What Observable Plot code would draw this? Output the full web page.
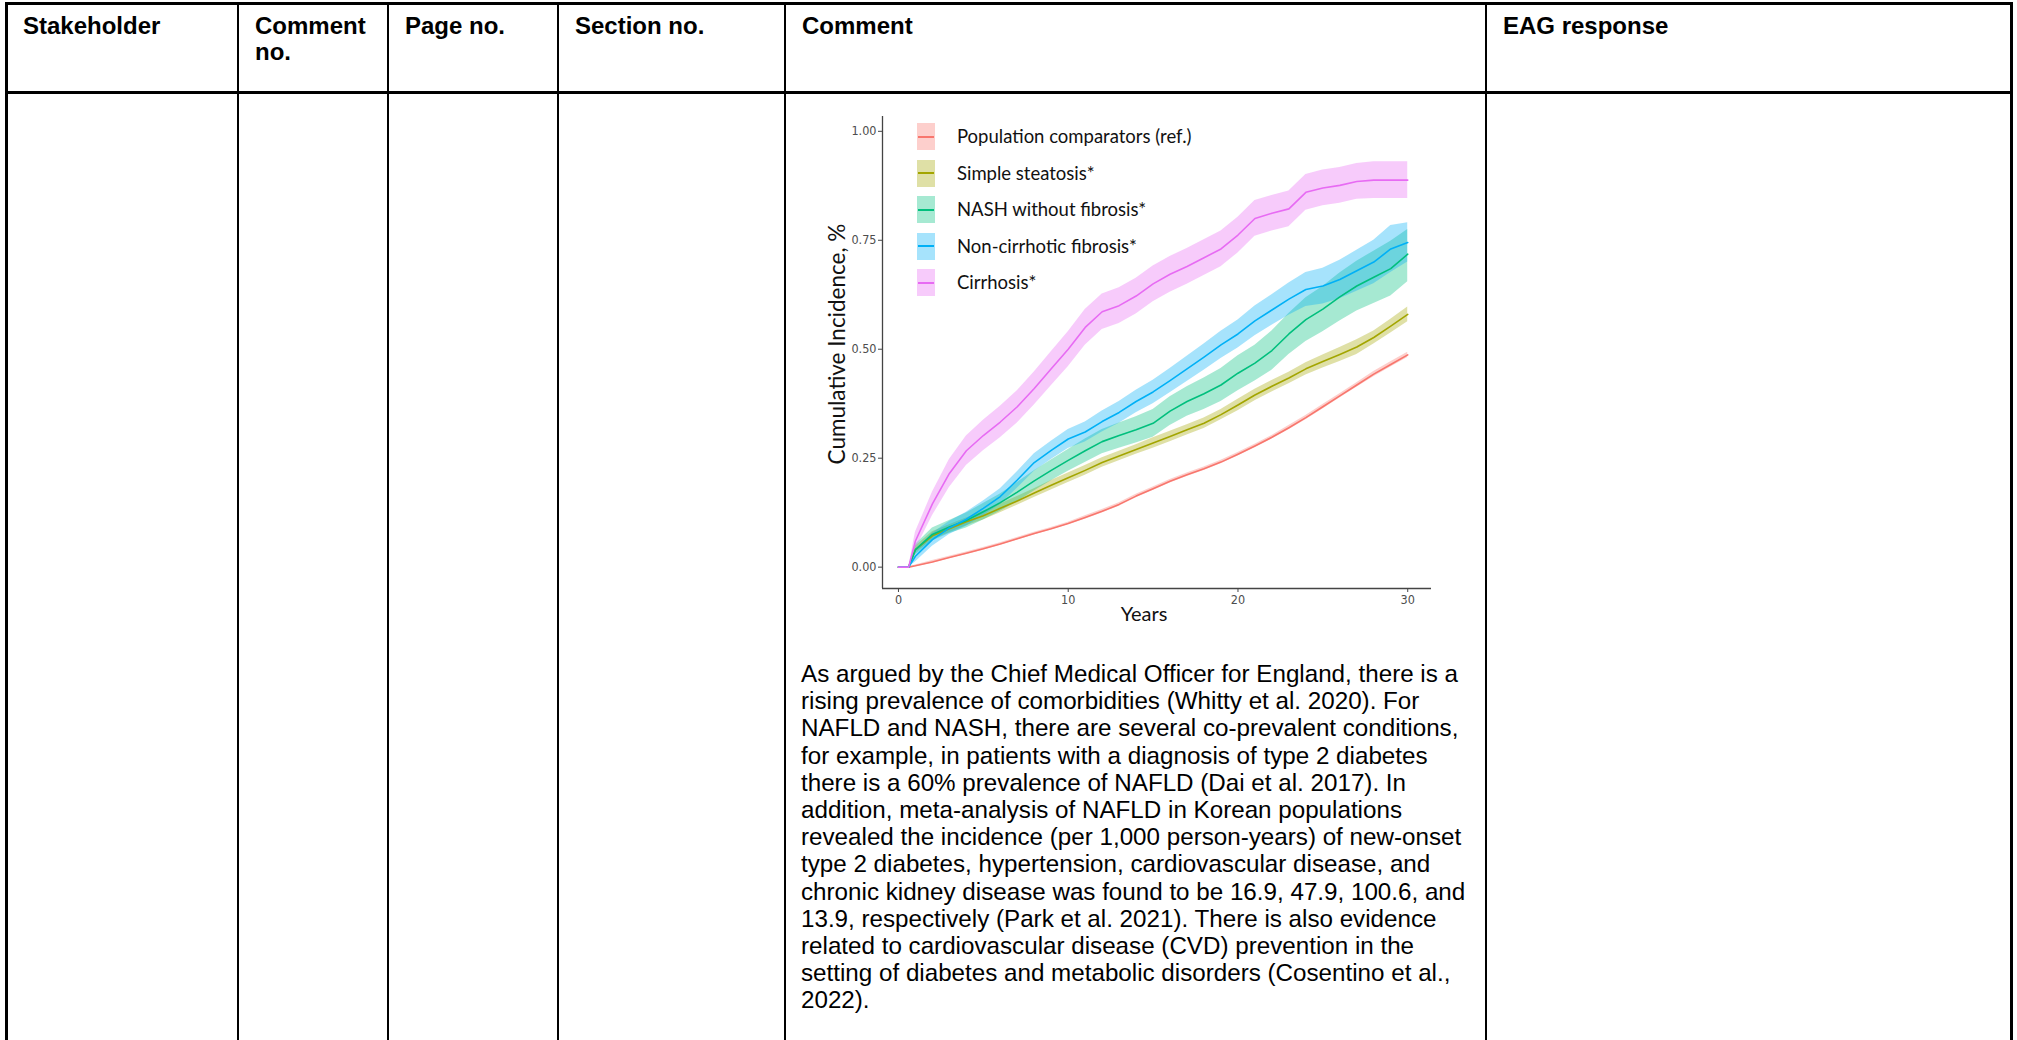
<!DOCTYPE html>
<html><head><meta charset="utf-8">
<script src="https://cdn.jsdelivr.net/npm/d3@7"></script>
<script src="https://cdn.jsdelivr.net/npm/@observablehq/plot@0.6"></script>
<style>
html,body{margin:0;padding:0;background:#fff;}
#page{position:relative;width:2017px;height:1040px;overflow:hidden;font-family:Arial,"Liberation Sans",sans-serif;color:#000;}
.ln{position:absolute;background:#000;}
.hd{position:absolute;top:13px;font-weight:bold;font-size:24px;line-height:25.6px;white-space:nowrap;}
#bodytext{position:absolute;left:801px;top:660px;font-size:24.2px;line-height:27.2px;white-space:nowrap;}
#chart{position:absolute;left:800px;top:100px;}
.ttl{position:absolute;font-family:Lato,"Open Sans",sans-serif;color:#111;white-space:nowrap;transform:translate(-50%,-50%);}
.lgrow{position:absolute;left:917px;height:27px;}
.lgbox{position:absolute;left:0;top:0;width:18px;height:27px;}
.lgline{position:absolute;left:1px;top:12.5px;width:16px;height:2px;}
.lgtxt{position:absolute;left:40px;top:0;line-height:27px;font-family:Lato,"Open Sans",sans-serif;font-size:18.5px;color:#111;white-space:nowrap;}
</style></head>
<body><div id="page"></div>
<script>
// ---- table content ----
const headers = [["Stakeholder"], ["Comment", "no."], ["Page no."], ["Section no."], ["Comment"], ["EAG response"]];
const bodyLines = [
 "As argued by the Chief Medical Officer for England, there is a",
 "rising prevalence of comorbidities (Whitty et al. 2020). For",
 "NAFLD and NASH, there are several co-prevalent conditions,",
 "for example, in patients with a diagnosis of type 2 diabetes",
 "there is a 60% prevalence of NAFLD (Dai et al. 2017). In",
 "addition, meta-analysis of NAFLD in Korean populations",
 "revealed the incidence (per 1,000 person-years) of new-onset",
 "type 2 diabetes, hypertension, cardiovascular disease, and",
 "chronic kidney disease was found to be 16.9, 47.9, 100.6, and",
 "13.9, respectively (Park et al. 2021). There is also evidence",
 "related to cardiovascular disease (CVD) prevention in the",
 "setting of diabetes and metabolic disorders (Cosentino et al.,",
 "2022)."
];

// ---- chart data ----
const seriesNames = ["Population comparators (ref.)", "Simple steatosis*", "NASH without fibrosis*", "Non-cirrhotic fibrosis*", "Cirrhosis*"];
const seriesColors = ["#F8766D", "#A3A500", "#00BF7D", "#00B0F6", "#E76BF3"];
const years = [0, 0.6, 1, 2, 3, 4, 5, 6, 7, 8, 9, 10, 11, 12, 13, 14, 15, 16, 17, 18, 19, 20, 21, 22, 23, 24, 25, 26, 27, 28, 29, 30];

const popMean = [0, 0, 0.003, 0.012, 0.022, 0.032, 0.042, 0.053, 0.065, 0.077, 0.088, 0.100, 0.114, 0.128, 0.144, 0.163, 0.180, 0.197, 0.212, 0.226, 0.241, 0.259, 0.278, 0.298, 0.320, 0.343, 0.368, 0.393, 0.418, 0.443, 0.465, 0.487];
const popLo   = [0, 0, 0.001, 0.009, 0.019, 0.029, 0.039, 0.050, 0.062, 0.074, 0.085, 0.097, 0.110, 0.124, 0.140, 0.159, 0.176, 0.193, 0.208, 0.222, 0.237, 0.255, 0.274, 0.294, 0.315, 0.338, 0.363, 0.388, 0.413, 0.437, 0.459, 0.481];
const popHi   = [0, 0, 0.005, 0.015, 0.025, 0.035, 0.045, 0.056, 0.068, 0.080, 0.091, 0.103, 0.118, 0.132, 0.148, 0.167, 0.184, 0.201, 0.216, 0.230, 0.245, 0.263, 0.282, 0.302, 0.325, 0.348, 0.373, 0.398, 0.423, 0.449, 0.471, 0.493];

const steMean = [0, 0, 0.040, 0.072, 0.088, 0.104, 0.118, 0.135, 0.152, 0.170, 0.188, 0.205, 0.222, 0.240, 0.255, 0.270, 0.285, 0.300, 0.315, 0.330, 0.350, 0.372, 0.395, 0.415, 0.434, 0.455, 0.472, 0.488, 0.505, 0.527, 0.553, 0.580];
const steLo   = [0, 0, 0.032, 0.063, 0.079, 0.095, 0.108, 0.125, 0.142, 0.160, 0.177, 0.194, 0.211, 0.229, 0.244, 0.259, 0.273, 0.288, 0.303, 0.318, 0.338, 0.359, 0.382, 0.402, 0.421, 0.441, 0.457, 0.472, 0.488, 0.512, 0.537, 0.563];
const steHi   = [0, 0, 0.048, 0.081, 0.097, 0.113, 0.128, 0.145, 0.162, 0.180, 0.199, 0.216, 0.233, 0.251, 0.266, 0.281, 0.297, 0.312, 0.327, 0.342, 0.362, 0.385, 0.408, 0.428, 0.447, 0.469, 0.487, 0.504, 0.522, 0.542, 0.569, 0.597];

const nashMean = [0, 0, 0.040, 0.075, 0.092, 0.107, 0.127, 0.148, 0.172, 0.198, 0.222, 0.245, 0.267, 0.288, 0.302, 0.315, 0.330, 0.358, 0.380, 0.398, 0.418, 0.445, 0.468, 0.497, 0.535, 0.568, 0.592, 0.620, 0.645, 0.665, 0.685, 0.718];
const nashLo   = [0, 0, 0.028, 0.060, 0.077, 0.090, 0.108, 0.128, 0.150, 0.175, 0.198, 0.220, 0.240, 0.260, 0.273, 0.285, 0.298, 0.325, 0.346, 0.362, 0.380, 0.405, 0.427, 0.452, 0.488, 0.518, 0.540, 0.565, 0.588, 0.605, 0.622, 0.655];
const nashHi   = [0, 0, 0.052, 0.090, 0.107, 0.124, 0.146, 0.168, 0.194, 0.221, 0.246, 0.270, 0.294, 0.316, 0.331, 0.345, 0.362, 0.391, 0.414, 0.434, 0.456, 0.485, 0.509, 0.542, 0.582, 0.618, 0.644, 0.675, 0.702, 0.725, 0.748, 0.775];

const fibMean = [0, 0, 0.025, 0.063, 0.090, 0.110, 0.135, 0.162, 0.200, 0.240, 0.268, 0.294, 0.310, 0.334, 0.355, 0.380, 0.402, 0.428, 0.455, 0.482, 0.510, 0.535, 0.565, 0.590, 0.615, 0.637, 0.645, 0.660, 0.680, 0.700, 0.730, 0.745];
const fibLo   = [0, 0, 0.012, 0.048, 0.075, 0.094, 0.118, 0.144, 0.181, 0.220, 0.247, 0.272, 0.287, 0.310, 0.330, 0.354, 0.375, 0.400, 0.426, 0.452, 0.479, 0.503, 0.531, 0.555, 0.578, 0.598, 0.604, 0.616, 0.633, 0.650, 0.676, 0.700];
const fibHi   = [0, 0, 0.038, 0.078, 0.105, 0.126, 0.152, 0.180, 0.219, 0.260, 0.289, 0.316, 0.333, 0.358, 0.380, 0.406, 0.429, 0.456, 0.484, 0.512, 0.541, 0.567, 0.599, 0.625, 0.652, 0.676, 0.686, 0.704, 0.727, 0.750, 0.784, 0.790];

const cirMean = [0, 0, 0.060, 0.145, 0.215, 0.267, 0.302, 0.333, 0.368, 0.410, 0.455, 0.500, 0.550, 0.586, 0.600, 0.622, 0.650, 0.672, 0.690, 0.710, 0.730, 0.762, 0.800, 0.812, 0.822, 0.860, 0.870, 0.876, 0.885, 0.888, 0.888, 0.888];
const cirLo   = [0, 0, 0.040, 0.118, 0.183, 0.233, 0.267, 0.297, 0.331, 0.372, 0.416, 0.460, 0.509, 0.545, 0.559, 0.581, 0.609, 0.631, 0.649, 0.669, 0.689, 0.721, 0.759, 0.771, 0.781, 0.819, 0.829, 0.835, 0.844, 0.846, 0.846, 0.846];
const cirHi   = [0, 0, 0.080, 0.172, 0.247, 0.301, 0.337, 0.369, 0.405, 0.448, 0.494, 0.540, 0.591, 0.627, 0.641, 0.663, 0.691, 0.713, 0.731, 0.751, 0.771, 0.803, 0.841, 0.853, 0.863, 0.901, 0.911, 0.917, 0.926, 0.930, 0.930, 0.930];

const xTicks = [0, 10, 20, 30];
const yTicks = [0, 0.25, 0.5, 0.75, 1];
const xDomain = [-0.94, 31.4];
const yDomain = [-0.049, 1.034];
const xTitle = "Years";
const yTitle = "Cumulative Incidence, %";

// ---- build page ----
const page = document.getElementById("page");
function el(tag, cls, style, html) {
  const e = document.createElement(tag);
  if (cls) e.className = cls;
  if (style) e.setAttribute("style", style);
  if (html != null) e.innerHTML = html;
  page.appendChild(e);
  return e;
}
// table rules
const colX = [5, 237, 387, 557, 784, 1485, 2010];
colX.forEach((x, i) => {
  const w = (i === 0 || i === colX.length - 1) ? 3 : 2;
  el("div", "ln", `left:${x}px;top:2px;width:${w}px;height:1040px;`);
});
el("div", "ln", "left:5px;top:2px;width:2008px;height:3px;");
el("div", "ln", "left:5px;top:91px;width:2008px;height:3px;");
headers.forEach((h, i) => {
  el("div", "hd", `left:${colX[i] + 18}px;`, h.join("<br>"));
});
const bt = el("div", null, null, null);
bt.id = "bodytext";
bt.innerHTML = bodyLines.join("<br>");

// ---- chart ----
const means = [popMean, steMean, nashMean, fibMean, cirMean];
const los = [popLo, steLo, nashLo, fibLo, cirLo];
const his = [popHi, steHi, nashHi, fibHi, cirHi];
const rows = [];
seriesNames.forEach((s, i) => years.forEach((yr, j) => rows.push({series: s, year: yr, v: means[i][j], lo: los[i][j], hi: his[i][j]})));

const tickFont = '"Liberation Sans Narrow","DejaVu Sans Condensed","Arial Narrow",sans-serif';
const chart = Plot.plot({
  width: 660, height: 530,
  marginLeft: 82, marginRight: 29, marginTop: 16, marginBottom: 42,
  style: {background: "transparent", fontFamily: tickFont, fontSize: "12.5px", color: "#4d4d4d"},
  x: {domain: xDomain},
  y: {domain: yDomain},
  color: {domain: seriesNames, range: seriesColors},
  marks: [
    Plot.areaY(rows, {x: "year", y1: "lo", y2: "hi", fill: "series", fillOpacity: 0.35}),
    Plot.lineY(rows, {x: "year", y: "v", stroke: "series", strokeWidth: 1.6}),
    Plot.ruleX([xDomain[0]], {stroke: "#444", strokeWidth: 1.3}),
    Plot.ruleY([yDomain[0]], {stroke: "#444", strokeWidth: 1.3}),
    Plot.axisX({ticks: xTicks, tickSize: 4, tickPadding: 3, label: null, stroke: "#444", fill: "#4d4d4d"}),
    Plot.axisY({ticks: yTicks, tickSize: 4, tickPadding: 2, tickFormat: d3.format(".2f"), label: null, stroke: "#444", fill: "#4d4d4d"})
  ]
});
const holder = el("div", null, null, null);
holder.id = "chart";
holder.appendChild(chart);

el("div", "ttl", "left:836px;top:344px;font-size:22.5px;transform:translate(-50%,-50%) rotate(-90deg);", yTitle);
el("div", "ttl", "left:1144px;top:613px;font-size:20px;", xTitle);

seriesNames.forEach((s, i) => {
  const row = el("div", "lgrow", `top:${123 + i * 36.6}px;`, null);
  row.innerHTML = `<div class="lgbox" style="background:${seriesColors[i]};opacity:0.35"></div>` +
    `<div class="lgline" style="background:${seriesColors[i]}"></div>` +
    `<div class="lgtxt">${s}</div>`;
});
</script>
</body></html>
